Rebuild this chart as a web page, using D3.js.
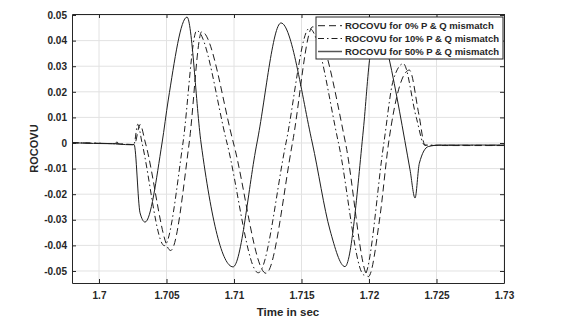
<!DOCTYPE html>
<html>
<head>
<meta charset="utf-8">
<script src="https://cdn.jsdelivr.net/npm/d3@7/dist/d3.min.js"></script>
<style>
  html, body { margin: 0; padding: 0; background: #fff; }
  svg { display: block; }
  text { font-family: "Liberation Sans", Arial, sans-serif; }
</style>
</head>
<body>
<svg id="chart" width="576" height="328"></svg>
<script>
// ---- data ----
const xTicks = [1.7, 1.705, 1.71, 1.715, 1.72, 1.725, 1.73];
const yTicks = [0.05, 0.04, 0.03, 0.02, 0.01, 0, -0.01, -0.02, -0.03, -0.04, -0.05];
const xTickLabels = ["1.7", "1.705", "1.71", "1.715", "1.72", "1.725", "1.73"];
const yTickLabels = ["0.05", "0.04", "0.03", "0.02", "0.01", "0", "-0.01", "-0.02", "-0.03", "-0.04", "-0.05"];
const seriesNames = [
  "ROCOVU for 0% P & Q mismatch",
  "ROCOVU for 10% P & Q mismatch",
  "ROCOVU for 50% P & Q mismatch"
];
// 0% mismatch (dashed)
const mismatch0 = [
  [1.698, 0.0001], [1.7012, -0.0003], [1.7025, -0.0006], [1.70263, -0.0005],
  [1.70304, 0.0072], [1.70344, 0.0], [1.70531, -0.0420], [1.70668, 0.0],
  [1.70761, 0.0435], [1.70996, 0.0], [1.71237, -0.0509], [1.71433, 0.0],
  [1.71583, 0.0454], [1.71826, 0.0], [1.71995, -0.0522], [1.72081, -0.0288],
  [1.72145, 0.0], [1.72299, 0.0285], [1.72370, 0.0110], [1.72415, -0.0009],
  [1.7260, -0.0010], [1.730, -0.0010]
];
// 10% mismatch (dash-dot)
const mismatch10 = [
  [1.698, 0.0001], [1.7012, -0.0003], [1.7025, -0.0006], [1.70259, -0.0005],
  [1.70287, 0.0073], [1.70319, 0.0], [1.70484, -0.0401], [1.70622, 0.0],
  [1.70724, 0.0439], [1.70948, 0.0], [1.71180, -0.0507], [1.71385, 0.0],
  [1.71558, 0.0448], [1.71774, 0.0], [1.71965, -0.0516], [1.72110, 0.0],
  [1.72180, 0.0246], [1.72254, 0.0310], [1.72350, 0.0100], [1.72412, -0.0008],
  [1.7260, -0.0009], [1.730, -0.0009]
];
// 50% mismatch (solid)
const mismatch50 = [
  [1.698, 0.0001], [1.7012, -0.0003], [1.70133, 0.0005], [1.70145, -0.0004],
  [1.7025, -0.0007], [1.70260, -0.0006], [1.70304, -0.0273], [1.70341, -0.0309],
  [1.70467, 0.0], [1.70513, 0.0168], [1.70652, 0.0492], [1.70756, 0.0],
  [1.70993, -0.0484], [1.71170, 0.0], [1.71348, 0.0469], [1.71580, 0.0],
  [1.71711, -0.0340], [1.71822, -0.0483], [1.71958, 0.0051], [1.72007, 0.0336],
  [1.72081, 0.0480], [1.72148, 0.0332], [1.72304, -0.0105], [1.72341, -0.0215],
  [1.72373, -0.0079], [1.72439, -0.0014], [1.72526, -0.0008], [1.730, -0.0008]
];

// ---- layout ----
const svg = d3.select("#chart");
const L = 72, R = 504, T = 14, B = 283;
const x = d3.scaleLinear().domain([1.698, 1.73]).range([L, R]);
const y = d3.scaleLinear().domain([-0.0547, 0.0504]).range([B, T]);
const axisColor = "#262626";
const gridColor = "#e2e2e2";
const lineColor = "#1e1e1e";

// grid
const grid = svg.append("g");
grid.selectAll("line.gx").data(xTicks).join("line")
  .attr("x1", d => x(d)).attr("x2", d => x(d)).attr("y1", T).attr("y2", B)
  .attr("stroke", gridColor).attr("stroke-width", 1);
grid.selectAll("line.gy").data(yTicks).join("line")
  .attr("y1", d => y(d)).attr("y2", d => y(d)).attr("x1", L).attr("x2", R)
  .attr("stroke", gridColor).attr("stroke-width", 1);

// clip
svg.append("clipPath").attr("id", "clip").append("rect")
  .attr("x", L).attr("y", T).attr("width", R - L).attr("height", B - T);

const line = d3.line().x(d => x(d[0])).y(d => y(d[1])).curve(d3.curveMonotoneX);
const series = [
  { data: mismatch0, dash: "7,4" },
  { data: mismatch10, dash: "6,3,1.5,3" },
  { data: mismatch50, dash: null }
];
const plot = svg.append("g").attr("clip-path", "url(#clip)");
series.forEach(s => {
  plot.append("path").datum(s.data).attr("d", line)
    .attr("fill", "none").attr("stroke", lineColor).attr("stroke-width", 1)
    .attr("stroke-dasharray", s.dash);
});

// axes
const fmtX = (d, i) => xTickLabels[i];
const fmtY = (d, i) => yTickLabels[i];
const axB = svg.append("g").attr("transform", `translate(0,${B})`)
  .call(d3.axisBottom(x).tickValues(xTicks).tickFormat(fmtX).tickSizeInner(-4).tickSizeOuter(0).tickPadding(9));
const axT = svg.append("g").attr("transform", `translate(0,${T})`)
  .call(d3.axisTop(x).tickValues(xTicks).tickFormat("").tickSizeInner(-4).tickSizeOuter(0));
const axLft = svg.append("g").attr("transform", `translate(${L},0)`)
  .call(d3.axisLeft(y).tickValues(yTicks).tickFormat(fmtY).tickSizeInner(-4).tickSizeOuter(0).tickPadding(5));
const axRgt = svg.append("g").attr("transform", `translate(${R},0)`)
  .call(d3.axisRight(y).tickValues(yTicks).tickFormat("").tickSizeInner(-4).tickSizeOuter(0));
[axB, axT, axLft, axRgt].forEach(g => {
  g.select(".domain").attr("stroke", axisColor).attr("stroke-width", 1);
  g.selectAll(".tick line").attr("stroke", axisColor);
  g.selectAll(".tick text").attr("fill", axisColor)
    .style("font-size", "10px").style("font-weight", "bold")
    .style("font-family", "'Liberation Sans', Arial, sans-serif");
});

// axis titles
svg.append("text").attr("x", (L + R) / 2).attr("y", 316)
  .attr("text-anchor", "middle").attr("fill", axisColor)
  .style("font-size", "11.5px").style("font-weight", "bold").text("Time in sec");
svg.append("text").attr("transform", `translate(38,${(T + B) / 2}) rotate(-90)`)
  .attr("text-anchor", "middle").attr("fill", axisColor)
  .style("font-size", "11px").style("font-weight", "bold").text("ROCOVU");

// legend
const lg = svg.append("g");
lg.append("rect").attr("x", 316).attr("y", 17).attr("width", 187).attr("height", 42)
  .attr("fill", "#fff").attr("stroke", axisColor).attr("stroke-width", 1);
const legendY = [25.7, 38.5, 51.5];
series.forEach((s, i) => {
  lg.append("line").attr("x1", 318).attr("x2", 342)
    .attr("y1", legendY[i]).attr("y2", legendY[i])
    .attr("stroke", i === 2 ? "#555" : lineColor).attr("stroke-width", i === 2 ? 1.5 : 1)
    .attr("stroke-dasharray", s.dash);
  lg.append("text").attr("x", 345).attr("y", legendY[i]).attr("dy", "0.35em")
    .attr("fill", axisColor).style("font-size", "9.5px").style("font-weight", "bold")
    .text(seriesNames[i]);
});
</script>
</body>
</html>
